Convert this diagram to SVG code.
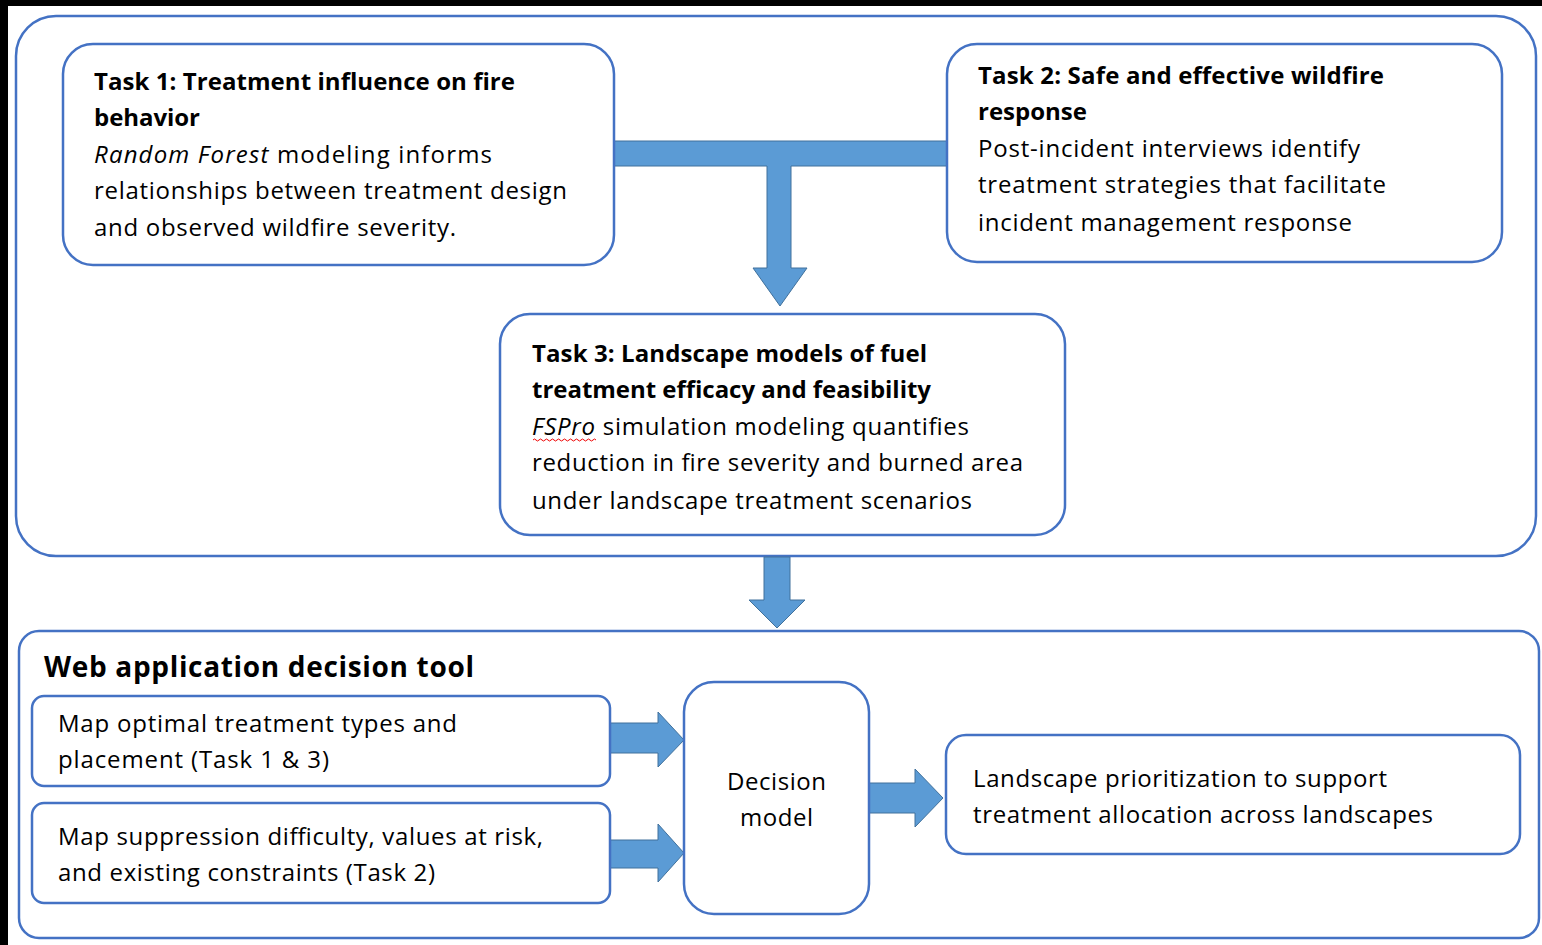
<svg xmlns="http://www.w3.org/2000/svg" width="1542" height="945" viewBox="0 0 1542 945">
<style>
.box{fill:#fff;stroke:#4472C4;stroke-width:2.5}
.arrow{fill:#5B9BD5;stroke:#41719C;stroke-width:1}
text{font-family:"Open Sans",Lato,sans-serif;font-size:24px;fill:#000}
.b{font-weight:bold}
.i{font-style:italic}
</style>
<rect x="0" y="0" width="1542" height="945" fill="#fff"/>
<rect x="0" y="0" width="1542" height="6" fill="#000"/>
<rect x="0" y="0" width="8" height="945" fill="#000"/>
<g id="top-container"><rect class="box" x="16" y="16" width="1520" height="540" rx="40"/></g>
<g id="bottom-container"><rect class="box" x="19" y="631" width="1520" height="307" rx="20"/>
<text class="b" x="44" y="677" style="font-size:28px" textLength="430" lengthAdjust="spacing">Web application decision tool</text></g>
<g id="connectors">
<path class="arrow" d="M614,141 H947 V166 H791 V268 H807 L780,306 L753,268 H767 V166 H614 Z"/>
<path class="arrow" d="M764,557 H790 V600 H805 L777,628 L749,600 H764 Z"/>
<path class="arrow" d="M610,723 H658 V712 L684,740 L658,767 V753 H610 Z"/>
<path class="arrow" d="M610,840 H658 V824 L684,853 L658,882 V868 H610 Z"/>
<path class="arrow" d="M869,783 H915 V769 L943,798 L915,827 V813 H869 Z"/>
</g>
<g id="task1"><rect class="box" x="63" y="44" width="551" height="221" rx="30"/>
<text class="b" x="94" y="90" textLength="421" lengthAdjust="spacing">Task 1: Treatment influence on fire</text>
<text class="b" x="94" y="126" textLength="106" lengthAdjust="spacing">behavior</text>
<text x="94" y="163" textLength="398" lengthAdjust="spacing"><tspan class="i">Random Forest</tspan> modeling  informs</text>
<text x="94" y="199" textLength="473" lengthAdjust="spacing">relationships between treatment design</text>
<text x="94" y="236" textLength="362" lengthAdjust="spacing">and observed wildfire severity.</text></g>
<g id="task2"><rect class="box" x="947" y="44" width="555" height="218" rx="30"/>
<text class="b" x="978" y="84" textLength="406" lengthAdjust="spacing">Task 2: Safe and effective wildfire</text>
<text class="b" x="978" y="120" textLength="109" lengthAdjust="spacing">response</text>
<text x="978" y="157" textLength="382" lengthAdjust="spacing">Post-incident interviews identify</text>
<text x="978" y="193" textLength="408" lengthAdjust="spacing">treatment strategies that facilitate</text>
<text x="978" y="231" textLength="374" lengthAdjust="spacing">incident management response</text></g>
<g id="task3"><rect class="box" x="500" y="314" width="565" height="221" rx="30"/>
<text class="b" x="532" y="362" textLength="395" lengthAdjust="spacing">Task 3: Landscape models of fuel</text>
<text class="b" x="532" y="398" textLength="399" lengthAdjust="spacing">treatment efficacy and feasibility</text>
<text x="532" y="435" textLength="437" lengthAdjust="spacing"><tspan class="i">FSPro</tspan> simulation modeling quantifies</text>
<path d="M533,440 q1.5,-2 3,0 t3,0 t3,0 t3,0 t3,0 t3,0 t3,0 t3,0 t3,0 t3,0 t3,0 t3,0 t3,0 t3,0 t3,0 t3,0 t3,0 t3,0 t3,0 t3,0 t3,0" fill="none" stroke="#e00" stroke-width="1"/>
<text x="532" y="471" textLength="491" lengthAdjust="spacing">reduction in fire severity and burned area</text>
<text x="532" y="509" textLength="440" lengthAdjust="spacing">under landscape treatment scenarios</text></g>
<g id="map1"><rect class="box" x="32" y="696" width="578" height="90" rx="12"/>
<text x="58" y="732" textLength="399" lengthAdjust="spacing">Map optimal treatment types and</text>
<text x="58" y="768" textLength="271" lengthAdjust="spacing">placement (Task 1 &amp; 3)</text></g>
<g id="map2"><rect class="box" x="32" y="803" width="578" height="100" rx="12"/>
<text x="58" y="845" textLength="485" lengthAdjust="spacing">Map suppression difficulty, values at risk,</text>
<text x="58" y="881" textLength="377" lengthAdjust="spacing">and existing constraints (Task 2)</text></g>
<g id="decision"><rect class="box" x="684" y="682" width="185" height="232" rx="30"/>
<text x="776.5" y="790" text-anchor="middle" textLength="99" lengthAdjust="spacing">Decision</text>
<text x="776.5" y="826" text-anchor="middle" textLength="73" lengthAdjust="spacing">model</text></g>
<g id="landscape"><rect class="box" x="946" y="735" width="574" height="119" rx="20"/>
<text x="973" y="787" textLength="414" lengthAdjust="spacing">Landscape prioritization to support</text>
<text x="973" y="823" textLength="460" lengthAdjust="spacing">treatment allocation across landscapes</text></g>
</svg>
